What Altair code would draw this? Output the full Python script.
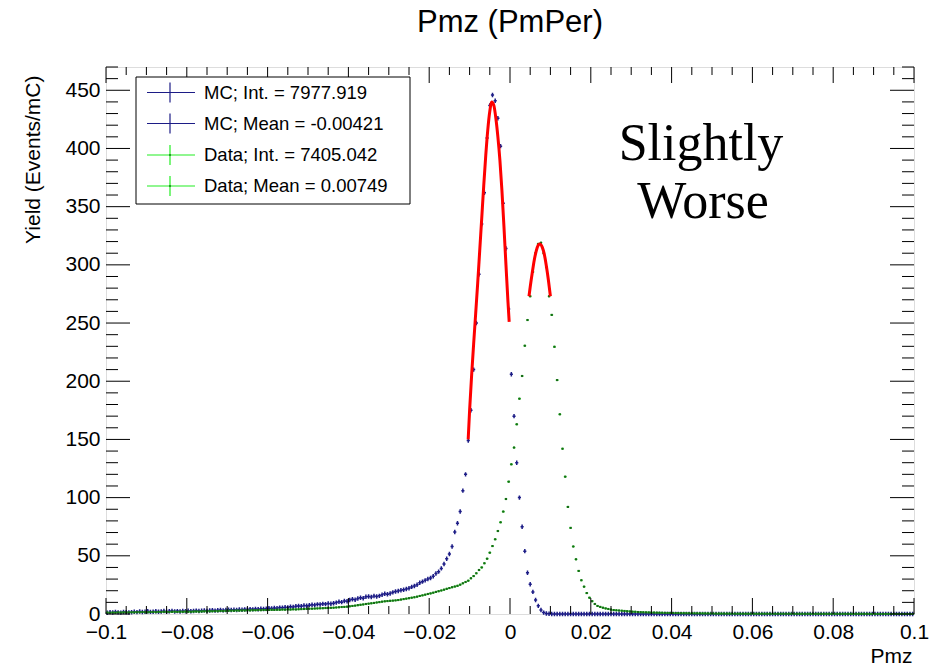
import altair as alt
import numpy as np
import pandas as pd

# ---------------- data ----------------
X_RANGE = [-0.1, 0.1]
Y_RANGE = [0, 470]
N_BINS = 300

mc_yield = [
    1.1, 1.6, 1.3, 1.8, 1.4, 1.2, 1.7, 1.5, 1.3, 1.5,
    1.9, 1.6, 2.2, 1.7, 1.9, 2.4, 1.8, 2.0, 2.3, 1.9,
    2.1, 2.6, 2.0, 2.3, 2.7, 2.2, 2.5, 2.1, 2.6, 2.4,
    2.8, 2.3, 2.6, 2.9, 2.6, 2.8, 3.1, 2.7, 3.0, 3.3,
    2.9, 3.2, 3.5, 3.1, 3.4, 3.6, 3.4, 3.7, 3.5, 3.9,
    3.6, 4.0, 3.8, 4.2, 4.0, 4.4, 4.1, 4.6, 4.3, 4.6,
    4.9, 4.7, 5.2, 5.0, 5.5, 5.4, 5.8, 5.6, 6.2, 6.0,
    6.6, 6.9, 6.7, 7.3, 7.1, 7.6, 7.9, 7.7, 8.3, 8.1,
    8.7, 8.5, 9.0, 8.8, 9.2, 9.8, 10.6, 10.2, 11.1, 11.0,
    12.0, 12.6, 12.2, 13.3, 14.0, 13.6, 14.8, 15.0, 14.6, 15.4,
    15.1, 15.6, 16.6, 17.4, 17.0, 17.6, 18.6, 19.3, 19.8, 20.4,
    20.8, 21.5, 22.2, 23.3, 24.0, 25.2, 26.8, 27.8, 28.9, 30.0,
    31.0, 32.5, 34.8, 36.4, 39.2, 43.0, 47.5, 51.5, 58.0, 70.5,
    78.0, 88.0, 106.0, 120.0, 149.0, 175.0, 210.0, 250.0, 292.0, 335.0,
    362.0, 409.0, 437.0, 446.0, 441.0, 426.0, 402.0, 353.0, 314.0, 262.0,
    206.0, 170.0, 130.0, 100.0, 75.0, 54.0, 35.5, 25.5, 19.0, 12.0,
    7.0, 3.4, 1.2, 0.4, 0.15, 0.05, 0, 0, 0, 0,
    0, 0, 0, 0, 0, 0, 0, 0, 0, 0,
    0, 0, 0, 0, 0, 0, 0, 0, 0, 0,
    0, 0, 0, 0, 0, 0, 0, 0, 0, 0,
    0, 0, 0, 0, 0, 0, 0, 0, 0, 0,
    0, 0, 0, 0, 0, 0, 0, 0, 0, 0,
    0, 0, 0, 0, 0, 0, 0, 0, 0, 0,
    0, 0, 0, 0, 0, 0, 0, 0, 0, 0,
    0, 0, 0, 0, 0, 0, 0, 0, 0, 0,
    0, 0, 0, 0, 0, 0, 0, 0, 0, 0,
    0, 0, 0, 0, 0, 0, 0, 0, 0, 0,
    0, 0, 0, 0, 0, 0, 0, 0, 0, 0,
    0, 0, 0, 0, 0, 0, 0, 0, 0, 0,
    0, 0, 0, 0, 0, 0, 0, 0, 0, 0,
]

data_yield = [
    1.2, 1.0, 1.3, 1.1, 1.4, 1.2, 1.5, 1.3, 1.4, 1.5,
    1.4, 1.6, 1.5, 1.7, 1.6, 1.5, 1.7, 1.8, 1.6, 1.8,
    1.7, 1.9, 1.8, 1.7, 1.9, 2.0, 1.8, 2.0, 1.9, 2.1,
    2.0, 1.9, 2.1, 2.2, 2.0, 2.2, 2.3, 2.2, 2.4, 2.3,
    2.5, 2.4, 2.6, 2.5, 2.7, 2.8, 2.9, 2.8, 3.0, 2.9,
    3.1, 3.0, 3.2, 3.1, 3.3, 3.2, 3.4, 3.3, 3.5, 3.4,
    3.5, 3.6, 3.5, 3.7, 3.6, 3.8, 3.7, 3.9, 3.8, 4.0,
    3.9, 4.1, 4.2, 4.3, 4.4, 4.5, 4.6, 4.7, 4.8, 4.9,
    5.0, 5.1, 5.2, 5.3, 5.4, 5.6, 5.8, 6.0, 6.1, 6.3,
    6.6, 6.9, 7.2, 7.6, 7.9, 8.2, 8.6, 8.9, 9.2, 9.5,
    9.9, 10.2, 10.6, 10.9, 11.1, 11.3, 11.5, 11.7, 12.0, 12.4,
    12.8, 13.2, 13.6, 14.0, 14.4, 14.9, 15.5, 16.0, 16.6, 17.2,
    17.7, 18.3, 19.0, 19.6, 20.2, 20.9, 21.6, 22.3, 23.0, 23.6,
    24.2, 25.2, 26.4, 27.5, 28.6, 30.7, 32.6, 35.0, 37.8, 40.0,
    43.6, 47.5, 52.7, 58.4, 64.2, 71.3, 78.8, 88.0, 98.8, 113.7,
    128.6, 143.0, 163.0, 185.0, 204.5, 230.5, 252.6, 273.0, 294.0, 310.0,
    318.0, 319.0, 310.0, 298.0, 273.0, 257.0, 229.6, 201.0, 171.6, 142.0,
    118.0, 92.0, 74.0, 58.0, 47.0, 37.0, 29.0, 23.5, 18.0, 14.0,
    11.0, 8.6, 6.9, 6.1, 5.4, 4.8, 4.3, 3.8, 3.4, 3.2,
    3.0, 2.8, 2.6, 2.4, 2.2, 2.0, 1.9, 1.7, 1.6, 1.5,
    1.4, 1.35, 1.3, 1.2, 1.15, 1.1, 1.0, 0.97, 0.93, 0.9,
    0.86, 0.82, 0.78, 0.74, 0.7, 0.67, 0.64, 0.6, 0.58, 0.55,
    0.53, 0.5, 0.48, 0.46, 0.44, 0.42, 0.4, 0.39, 0.37, 0.36,
    0.35, 0.34, 0.33, 0.32, 0.31, 0.3, 0.3, 0.29, 0.28, 0.28,
    0.27, 0.26, 0.26, 0.25, 0.25, 0.24, 0.24, 0.23, 0.23, 0.22,
    0.22, 0.21, 0.21, 0.2, 0.2, 0.2, 0.19, 0.19, 0.18, 0.18,
    0.18, 0.17, 0.17, 0.17, 0.16, 0.16, 0.16, 0.15, 0.15, 0.15,
    0.14, 0.14, 0.14, 0.14, 0.13, 0.13, 0.13, 0.13, 0.12, 0.12,
    0.12, 0.12, 0.12, 0.11, 0.11, 0.11, 0.11, 0.11, 0.1, 0.1,
    0.1, 0.1, 0.1, 0.1, 0.1, 0.09, 0.09, 0.09, 0.09, 0.09,
]

# red fit curves
mc_fit_x = [-0.01035, -0.0100, -0.0095, -0.0090, -0.0085, -0.0080, -0.0075,
            -0.0070, -0.0065, -0.0060, -0.0055, -0.0050, -0.0045, -0.0040,
            -0.0035, -0.0030, -0.0025, -0.0020, -0.0015, -0.0010, -0.0005, -0.0002]
mc_fit_y = [150, 175, 205, 232, 258, 284, 312, 340, 368, 394, 416, 432, 440,
            437, 426, 410, 390, 364, 333, 300, 268, 251]
data_fit_x = [0.0047, 0.0050, 0.0055, 0.0060, 0.0065, 0.0070, 0.0073, 0.0076,
              0.0080, 0.0085, 0.0090, 0.0095, 0.0100]
data_fit_y = [273, 281, 293, 304, 312, 317, 318, 317.5, 315, 309, 299, 287, 273]

legend_labels = ["MC; Int. = 7977.919", "MC; Mean = -0.00421",
                 "Data; Int. = 7405.042", "Data; Mean = 0.00749"]
legend_series = ["MC", "MC", "Data", "Data"]

x_major = [-0.1, -0.08, -0.06, -0.04, -0.02, 0.0, 0.02, 0.04, 0.06, 0.08, 0.1]
y_major = [0, 50, 100, 150, 200, 250, 300, 350, 400, 450]

annotation_lines = ["Slightly", "Worse"]
chart_title = "Pmz (PmPer)"
x_title = "Pmz"
y_title = "Yield (Events/mC)"

assert len(mc_yield) == N_BINS and len(data_yield) == N_BINS

# ---------------- styling ----------------
W, H = 808, 547
FONT = "Liberation Sans"
MC_COLOR = "#1c1c86"
DATA_LINE = "#22ee22"
DATA_MARK = "#186618"
FIT_COLOR = "#ff0000"

edges = np.linspace(X_RANGE[0], X_RANGE[1], N_BINS + 1)
centers = (edges[:-1] + edges[1:]) / 2
df_mc = pd.DataFrame({"Pmz": centers, "Yield": mc_yield})
df_data = pd.DataFrame({"Pmz": centers, "Yield": data_yield})
df_fit = pd.concat([
    pd.DataFrame({"Pmz": mc_fit_x, "Yield": mc_fit_y, "fit": "mc"}),
    pd.DataFrame({"Pmz": data_fit_x, "Yield": data_fit_y, "fit": "data"}),
])

x_minor = [v for v in np.round(np.arange(-0.1, 0.1001, 0.005), 3) if not any(abs(v - m) < 1e-9 for m in x_major)]
y_minor = [v for v in range(0, 471, 10) if v % 50 != 0]

x_scale = alt.Scale(domain=X_RANGE, nice=False, zero=False)
y_scale = alt.Scale(domain=Y_RANGE, nice=False, zero=False)

x_axis = alt.Axis(values=x_major, format="~g", grid=False, ticks=False, domain=False,
                  labelFont=FONT, labelFontSize=21, labelColor="black", labelPadding=7,
                  labelFlush=False, labelOverlap=False,
                  title=x_title, titleFont=FONT, titleFontSize=21, titleFontWeight="normal",
                  titleColor="black", titleX=W - 2, titleY=48, titleAlign="right",
                  titleBaseline="alphabetic")
y_axis = alt.Axis(values=y_major, grid=False, ticks=False, domain=False,
                  labelFont=FONT, labelFontSize=21, labelColor="black", labelPadding=6,
                  labelOverlap=False,
                  title=y_title, titleFont=FONT, titleFontSize=21, titleFontWeight="normal",
                  titleColor="black", titleX=-73, titleY=8, titleAlign="right",
                  titleAngle=270, titleBaseline="middle")

X = alt.X("Pmz:Q", scale=x_scale, axis=x_axis)
Y = alt.Y("Yield:Q", scale=y_scale, axis=y_axis)

layers = []

# data points: MC (crosses), Data (bin-width bar + dark dot)
layers.append(alt.Chart(df_mc).mark_point(shape="M-1,0H1M0,-1.4V1.4", size=10, filled=False,
                                          strokeWidth=1.5, color=MC_COLOR, opacity=1).encode(x=X, y=Y))
layers.append(alt.Chart(df_data).mark_point(shape="M-1,0H1M0,-0.7V0.7", size=8, filled=False,
                                            strokeWidth=1.2, color=DATA_LINE, opacity=1).encode(x=X, y=Y))
layers.append(alt.Chart(df_data).mark_square(size=4.5, color=DATA_MARK, opacity=1).encode(x=X, y=Y))

# fit curves
layers.append(alt.Chart(df_fit).mark_line(color=FIT_COLOR, strokeWidth=3, interpolate="monotone")
              .encode(x=X, y=Y, detail="fit:N"))

# inside ticks (ROOT style) on all four sides
def xticks(vals, length):
    d = pd.DataFrame({"Pmz": vals})
    b = alt.Chart(d).mark_rule(color="black", strokeWidth=1).encode(x=X, y=alt.value(H), y2=alt.value(H - length))
    t = alt.Chart(d).mark_rule(color="black", strokeWidth=1).encode(x=X, y=alt.value(0), y2=alt.value(length))
    return [b, t]

def yticks(vals, length):
    d = pd.DataFrame({"Yield": vals})
    l = alt.Chart(d).mark_rule(color="black", strokeWidth=1).encode(y=Y, x=alt.value(0), x2=alt.value(length))
    r = alt.Chart(d).mark_rule(color="black", strokeWidth=1).encode(y=Y, x=alt.value(W), x2=alt.value(W - length))
    return [l, r]

layers += xticks(x_major, 16) + xticks(x_minor, 8)
layers += yticks(y_major, 24) + yticks(y_minor, 12)

# legend box
one = pd.DataFrame({"k": [0]})
layers.append(alt.Chart(one).mark_rect(fill="white", stroke="black", strokeWidth=1)
              .encode(x=alt.value(30), x2=alt.value(304), y=alt.value(10), y2=alt.value(137)))
row_y = [25.5, 56.5, 88, 119]
for lab, ser, yy in zip(legend_labels, legend_series, row_y):
    col = MC_COLOR if ser == "MC" else DATA_LINE
    layers.append(alt.Chart(one).mark_rule(color=col, strokeWidth=1.2)
                  .encode(x=alt.value(41), x2=alt.value(89), y=alt.value(yy)))
    layers.append(alt.Chart(one).mark_rule(color=col, strokeWidth=1.2)
                  .encode(x=alt.value(64), y=alt.value(yy - 10), y2=alt.value(yy + 10)))
    if ser == "Data":
        layers.append(alt.Chart(one).mark_square(size=3, color=DATA_MARK, opacity=1)
                      .encode(x=alt.value(64), y=alt.value(yy)))
    layers.append(alt.Chart(one).mark_text(text=lab, font=FONT, fontSize=18.5, color="black",
                                           align="left", baseline="middle")
                  .encode(x=alt.value(98), y=alt.value(yy)))

# annotation
for txt, xx, yy in zip(annotation_lines, [595, 597], [93, 151]):
    layers.append(alt.Chart(one).mark_text(text=txt, font="Liberation Serif", fontSize=52,
                                           color="black", align="center", baseline="alphabetic")
                  .encode(x=alt.value(xx), y=alt.value(yy)))

# chart title (drawn above the frame)
layers.append(alt.Chart(one).mark_text(text=chart_title, font=FONT, fontSize=31, color="black",
                                       align="center", baseline="alphabetic")
              .encode(x=alt.value(W / 2), y=alt.value(-35)))

chart = alt.layer(*layers).properties(
    width=W, height=H,
    autosize=alt.AutoSizeParams(type="none"),
    padding={"left": 106, "top": 67, "right": 28, "bottom": 51},
).configure_view(stroke="black", strokeWidth=1.2).configure(background="white")

chart.save("out.html", embed_options={"renderer": "svg", "actions": False})
